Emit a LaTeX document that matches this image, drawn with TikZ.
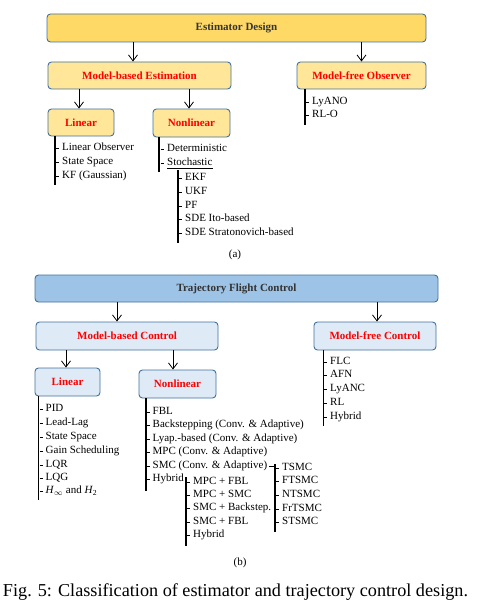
\documentclass[tikz,border=0pt]{standalone}
\usepackage{fontspec}
\setmainfont{Liberation Serif}
\usetikzlibrary{arrows.meta}
\definecolor{bordc}{HTML}{41719C}
\definecolor{goldA}{HTML}{FFD966}
\definecolor{goldB}{HTML}{FFE699}
\definecolor{blueA}{HTML}{9DC3E6}
\definecolor{blueB}{HTML}{DEEBF7}
\definecolor{titc}{HTML}{333333}
\definecolor{redc}{HTML}{FF0000}
\tikzset{
  box/.style={draw=bordc, line width=0.9pt, rounded corners=3.5pt, inner sep=0pt, font=\fontsize{11}{13}\selectfont\bfseries},
  topbox/.style={box, text=titc},
  subbox/.style={box, text=redc},
  arr/.style={-{Straight Barb[length=6pt,width=9pt]}, line width=0.8pt},
  vline/.style={line width=1.2pt},
  tick/.style={line width=0.6pt},
  itm/.style={anchor=west, inner sep=0pt, text height=7pt, text depth=2pt, font=\fontsize{11}{13}\selectfont},
  lbl/.style={inner sep=0pt, font=\fontsize{11}{13}\selectfont}
}
\newcommand{\mytick}[1]{\draw[tick] ([xshift=-6pt]#1.west) -- ([xshift=-3pt]#1.west);}
\begin{document}
\begin{tikzpicture}[x=1pt,y=-1pt]
\useasboundingbox (0,0) rectangle (483,615);

% ---------------- (a) Estimator Design ----------------
\node[topbox, fill=goldA, minimum width=379pt, minimum height=28pt] (est) at (236.5,28) {Estimator Design};
\node[subbox, fill=goldB, minimum width=183pt, minimum height=27pt] (mbe) at (139.5,75.5) {Model-based Estimation};
\node[subbox, fill=goldB, minimum width=129pt, minimum height=27pt] (mfo) at (361.5,75.5) {Model-free Observer};
\node[subbox, fill=goldB, minimum width=66pt, minimum height=27pt] (lin1) at (81,122.5) {Linear};
\node[subbox, fill=goldB, minimum width=77pt, minimum height=28pt] (nl1) at (191.5,123) {Nonlinear};

\draw[arr] (est.south -| mbe.north) ++(-6.5,0) coordinate (a1s) -- (a1s |- mbe.north);
\draw[arr] (est.south -| mfo.north) coordinate (a2s) -- (mfo.north);
\coordinate (a3s) at (79,89);
\draw[arr] (a3s) -- (a3s |- lin1.north);
\coordinate (a4s) at (189,89);
\draw[arr] (a4s) -- (a4s |- nl1.north);

% model-free observer list
\coordinate (mfoT) at (305,89);
\coordinate (mfoB) at (305,125);
\draw[vline] (mfoT) -- (mfoB);
\node[itm] (o1) at (312,102) {LyANO};
\node[itm] (o2) at (312,115) {RL-O};
\mytick{o1}\mytick{o2}

% linear list
\coordinate (l1T) at (55,136);
\coordinate (l1B) at (55,185);
\draw[vline] (l1T) -- (l1B);
\node[itm] (la) at (62,148) {Linear Observer};
\node[itm] (lb) at (62,162) {State Space};
\node[itm] (lc) at (62,176) {KF (Gaussian)};
\mytick{la}\mytick{lb}\mytick{lc}

% nonlinear list
\coordinate (n1T) at (159,137);
\coordinate (n1B) at (159,172);
\draw[vline] (n1T) -- (n1B);
\node[itm] (na) at (167,149) {Deterministic};
\node[itm] (nb) at (167,163) {Stochastic};
\mytick{na}\mytick{nb}
\draw[line width=0.8pt] ([yshift=-1pt]nb.south west) -- ([yshift=-1pt]nb.south east);
\coordinate (sT) at (178,170);
\coordinate (sB) at (178,243);
\draw[vline] (sT) -- (sB);
\node[itm] (sa) at (185,178) {EKF};
\node[itm] (sb) at (185,192) {UKF};
\node[itm] (sc) at (185,206) {PF};
\node[itm] (sd) at (185,219) {SDE Ito-based};
\node[itm] (se) at (185,233) {SDE Stratonovich-based};
\mytick{sa}\mytick{sb}\mytick{sc}\mytick{sd}\mytick{se}

\node[lbl] (capa) at (235,255) {(a)};

% ---------------- (b) Trajectory Flight Control ----------------
\node[topbox, fill=blueA, minimum width=403pt, minimum height=27pt] (tfc) at (236.5,288.5) {Trajectory Flight Control};
\node[subbox, fill=blueB, minimum width=182pt, minimum height=28pt] (mbc) at (127,336) {Model-based Control};
\node[subbox, fill=blueB, minimum width=122pt, minimum height=28pt] (mfc) at (375,336) {Model-free Control};
\node[subbox, fill=blueB, minimum width=65pt, minimum height=28pt] (lin2) at (67.5,382) {Linear};
\node[subbox, fill=blueB, minimum width=77pt, minimum height=28pt] (nl2) at (177.5,384) {Nonlinear};

\coordinate (b1s) at (117,302);
\draw[arr] (b1s) -- (b1s |- mbc.north);
\coordinate (b2s) at (377,302);
\draw[arr] (b2s) -- (b2s |- mfc.north);
\coordinate (b3s) at (66,350);
\draw[arr] (b3s) -- (b3s |- lin2.north);
\coordinate (b4s) at (173,350);
\draw[arr] (b4s) -- (b4s |- nl2.north);

% model-free control list
\coordinate (mfcT) at (323.5,350);
\coordinate (mfcB) at (323.5,426);
\draw[vline] (mfcT) -- (mfcB);
\node[itm] (c1) at (330,362) {FLC};
\node[itm] (c2) at (330,375) {AFN};
\node[itm] (c3) at (330,389) {LyANC};
\node[itm] (c4) at (330,403) {RL};
\node[itm] (c5) at (330,417) {Hybrid};
\mytick{c1}\mytick{c2}\mytick{c3}\mytick{c4}\mytick{c5}

% linear control list
\coordinate (l2T) at (38.5,396);
\coordinate (l2B) at (38.5,500);
\draw[vline] (l2T) -- (l2B);
\node[itm] (p1) at (45.5,409) {PID};
\node[itm] (p2) at (45.5,423) {Lead-Lag};
\node[itm] (p3) at (45.5,437) {State Space};
\node[itm] (p4) at (45.5,451) {Gain Scheduling};
\node[itm] (p5) at (45.5,465) {LQR};
\node[itm] (p6) at (45.5,478) {LQG};
\node[itm] (p7) at (45.5,491) {\textit{H}\textsubscript{$\infty$} and \textit{H}\textsubscript{2}};
\mytick{p1}\mytick{p2}\mytick{p3}\mytick{p4}\mytick{p5}\mytick{p6}\mytick{p7}

% nonlinear control list
\coordinate (n2T) at (146,398);
\coordinate (n2B) at (146,491);
\draw[vline] (n2T) -- (n2B);
\node[itm] (q1) at (152.5,412) {FBL};
\node[itm] (q2) at (152.5,425) {Backstepping (Conv. \& Adaptive)};
\node[itm] (q3) at (152.5,439) {Lyap.-based (Conv. \& Adaptive)};
\node[itm] (q4) at (152.5,452) {MPC (Conv. \& Adaptive)};
\node[itm] (q5) at (152.5,466) {SMC (Conv. \& Adaptive)};
\node[itm] (q6) at (152.5,479) {Hybrid};
\mytick{q1}\mytick{q2}\mytick{q3}\mytick{q4}\mytick{q5}\mytick{q6}

% SMC sub-list
\coordinate (smT) at (275,464);
\coordinate (smB) at (275,532);
\draw[vline] (smT) -- (smB);
\draw[line width=0.8pt] ([xshift=2pt]q5.east) -- (smT |- q5.east);
\node[itm] (t1) at (282,468) {TSMC};
\node[itm] (t2) at (282,481) {FTSMC};
\node[itm] (t3) at (282,495) {NTSMC};
\node[itm] (t4) at (282,509) {FrTSMC};
\node[itm] (t5) at (282,522) {STSMC};
\mytick{t1}\mytick{t2}\mytick{t3}\mytick{t4}\mytick{t5}

% Hybrid sub-list
\coordinate (hyT) at (186,477);
\coordinate (hyB) at (186,546);
\draw[vline] (hyT) -- (hyB);
\node[itm] (h1) at (193,482) {MPC + FBL};
\node[itm] (h2) at (193,495) {MPC + SMC};
\node[itm] (h3) at (193,508) {SMC + Backstep.};
\node[itm] (h4) at (193,522) {SMC + FBL};
\node[itm] (h5) at (193,535) {Hybrid};
\mytick{h1}\mytick{h2}\mytick{h3}\mytick{h4}\mytick{h5}

\node[lbl] (capb) at (240,563) {(b)};

\node[inner sep=0pt, font=\fontsize{18.2}{21}\selectfont] (cap) at (235.5,592) {Fig. 5: Classification of estimator and trajectory control design.};
\end{tikzpicture}
\end{document}
